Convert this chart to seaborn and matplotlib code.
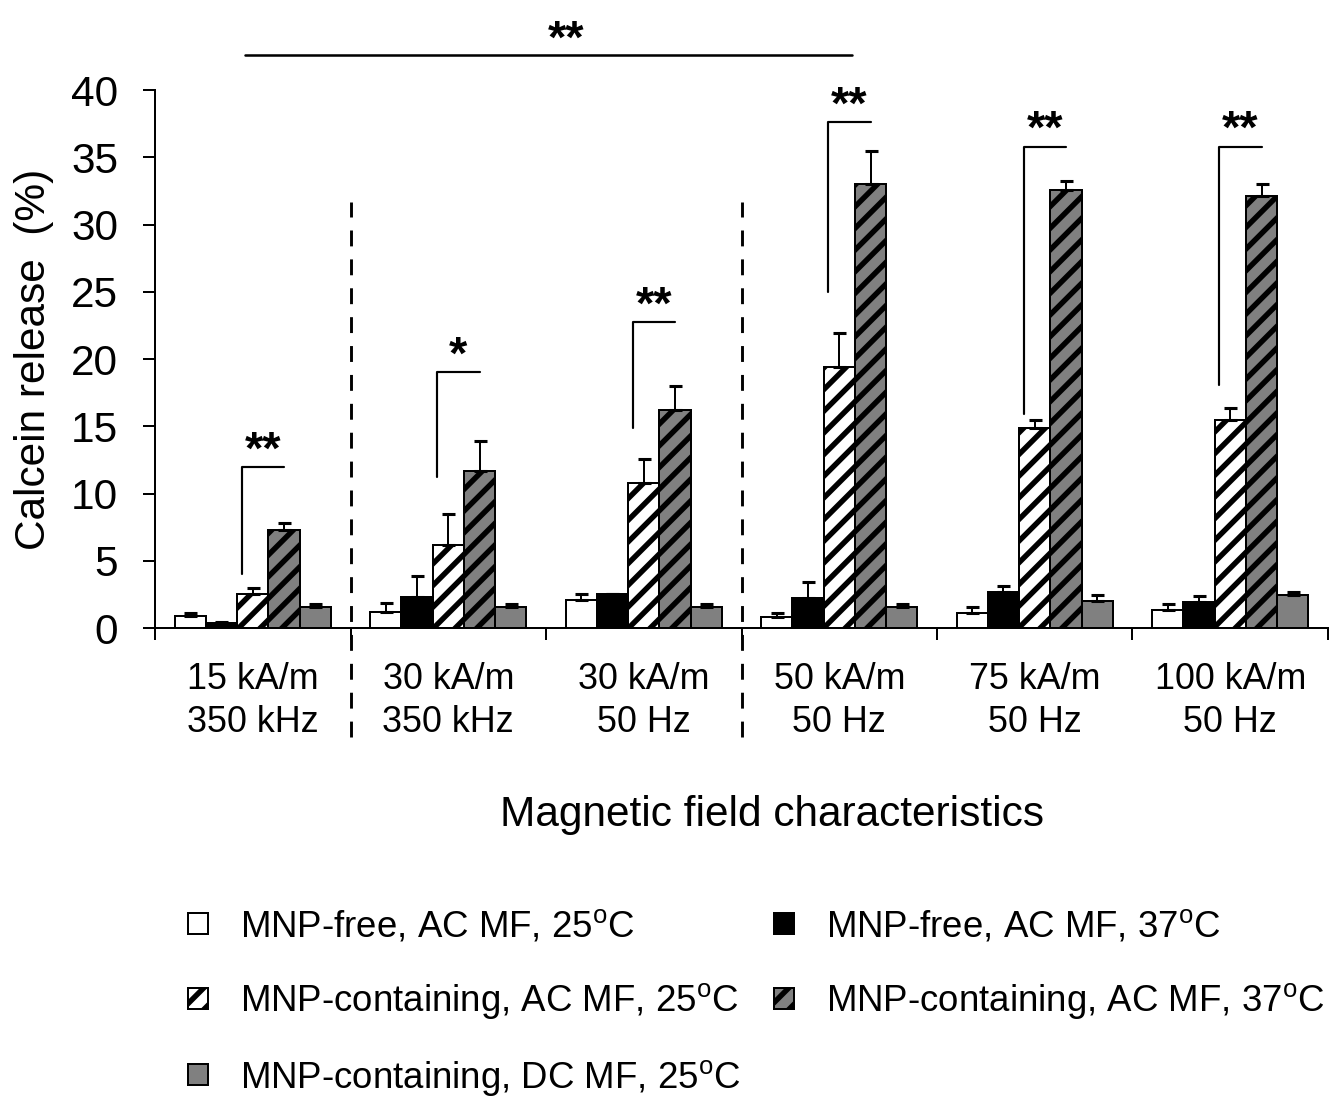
import numpy as np
import pandas as pd
import matplotlib
matplotlib.use("Agg")
import matplotlib.pyplot as plt
import seaborn as sns
from matplotlib.patches import Patch

# ---------------- data ----------------
fields = ["15 kA/m\n350 kHz", "30 kA/m\n350 kHz", "30 kA/m\n50 Hz",
          "50 kA/m\n50 Hz", "75 kA/m\n50 Hz", "100 kA/m\n50 Hz"]

conditions = [
    r"MNP-free, AC MF, 25$^{\mathrm{o}}$C",
    r"MNP-free, AC MF, 37$^{\mathrm{o}}$C",
    r"MNP-containing, AC MF, 25$^{\mathrm{o}}$C",
    r"MNP-containing, AC MF, 37$^{\mathrm{o}}$C",
    r"MNP-containing, DC MF, 25$^{\mathrm{o}}$C",
]

free_ac_25 = [0.9, 1.2, 2.05, 0.85, 1.1, 1.35]
free_ac_25_sd = [0.25, 0.65, 0.5, 0.25, 0.45, 0.4]
free_ac_37 = [0.35, 2.3, 2.5, 2.25, 2.65, 1.95]
free_ac_37_sd = [0.1, 1.6, 0.05, 1.15, 0.45, 0.45]
mnp_ac_25 = [2.5, 6.2, 10.8, 19.4, 14.9, 15.5]
mnp_ac_25_sd = [0.5, 2.3, 1.8, 2.5, 0.6, 0.85]
mnp_ac_37 = [7.3, 11.7, 16.2, 33.0, 32.6, 32.1]
mnp_ac_37_sd = [0.5, 2.2, 1.8, 2.5, 0.65, 0.9]
mnp_dc_25 = [1.6, 1.6, 1.6, 1.55, 2.0, 2.45]
mnp_dc_25_sd = [0.2, 0.2, 0.2, 0.2, 0.45, 0.2]

# significance brackets (AC 25 vs AC 37 within each field)
pair_stars = ["**", "*", "**", "**", "**", "**"]
pair_low = [4.0, 11.2, 14.9, 25.0, 15.9, 18.1]
pair_high = [12.0, 19.0, 22.75, 37.6, 35.8, 35.8]
overall_star = "**"
overall_level = 42.6

# dashed separators placed after these field groups
separator_after = [0, 2]

# ---------------- style ----------------
sns.set_style("ticks")
plt.rcParams.update({
    "font.family": ["Liberation Sans", "DejaVu Sans"],
    "mathtext.fontset": "custom",
    "mathtext.rm": "Liberation Sans",
    "mathtext.it": "Liberation Sans:italic",
    "mathtext.bf": "Liberation Sans:bold",
    "hatch.linewidth": 3.0,
    "axes.linewidth": 1.1,
    "axes.edgecolor": "black",
    "text.color": "black",
    "axes.labelcolor": "black",
    "xtick.color": "black",
    "ytick.color": "black",
})

face_colors = ["white", "black", "white", "#808080", "#808080"]
hatches = ["", "", "//", "//", ""]
means = [free_ac_25, free_ac_37, mnp_ac_25, mnp_ac_37, mnp_dc_25]
sds = [free_ac_25_sd, free_ac_37_sd, mnp_ac_25_sd, mnp_ac_37_sd, mnp_dc_25_sd]

rows = []
for cond, vals in zip(conditions, means):
    for f, v in zip(fields, vals):
        rows.append({"field": f, "condition": cond, "release": v})
df = pd.DataFrame(rows)

DPI = 130
fig = plt.figure(figsize=(1334 / DPI, 1102 / DPI), dpi=DPI)
ax = fig.add_axes([0.1162, 0.4301, 0.8793, 0.4882])

sns.barplot(data=df, x="field", y="release", hue="condition",
            order=fields, hue_order=conditions,
            palette=dict(zip(conditions, face_colors)),
            width=0.8, gap=0, errorbar=None, saturation=1,
            edgecolor="black", linewidth=1.1, legend=False, ax=ax)

# hatching and one-sided error bars
for cont, hatch, sd in zip(ax.containers, hatches, sds):
    xs, ys = [], []
    for bar in cont.patches:
        bar.set_hatch(hatch)
        bar.set_edgecolor("black")
        xs.append(bar.get_x() + bar.get_width() / 2)
        ys.append(bar.get_height())
    ax.errorbar(xs, ys, yerr=[np.zeros(len(sd)), sd], fmt="none",
                ecolor="black", elinewidth=1.1, capsize=3.6, capthick=1.7,
                zorder=3)

# brackets with significance stars
ac25 = ax.containers[2].patches
ac37 = ax.containers[3].patches
for g in range(len(fields)):
    x0 = ac25[g].get_x() + 0.15 * ac25[g].get_width()
    x1 = ac37[g].get_x() + ac37[g].get_width() / 2
    ax.plot([x0, x0, x1], [pair_low[g], pair_high[g], pair_high[g]],
            color="black", lw=1.2, clip_on=False, zorder=4)
    ax.text((x0 + x1) / 2, pair_high[g] + 0.25, pair_stars[g],
            ha="center", va="baseline", fontsize=26, fontweight="bold")

# overall comparison line above the plot
xa = ac25[0].get_x() + 0.25 * ac25[0].get_width()
xb = ac25[3].get_x() + 0.9 * ac25[3].get_width()
ax.plot([xa, xb], [overall_level, overall_level], color="black", lw=1.4,
        clip_on=False)
ax.text(xa + 0.53 * (xb - xa), overall_level + 0.2, overall_star,
        ha="center", va="baseline", fontsize=26, fontweight="bold")

# dashed group separators
for g in separator_after:
    xs = g + 0.5
    ax.plot([xs, xs], [-8.1, 31.7], color="black", lw=1.6,
            ls=(0, (5.5, 4.5)), clip_on=False, zorder=5)

# axes
ax.set_xlim(-0.5, len(fields) - 0.5)
ax.set_ylim(0, 40)
ax.set_yticks(np.arange(0, 41, 5))
ax.set_xticks(range(len(fields)))
ax.set_xticklabels(fields)
ax.set_xticks(np.arange(-0.5, len(fields), 1), minor=True)
ax.tick_params(axis="x", which="major", length=0, pad=18.8, labelsize=19.9)
ax.tick_params(axis="x", which="minor", length=6.6, width=1.1,
               direction="out")
ax.tick_params(axis="y", length=6.6, width=1.1, direction="out",
               pad=13.8, labelsize=23.5)
for lbl in ax.get_xticklabels():
    lbl.set_linespacing(1.3)
sns.despine(ax=ax)

ax.set_ylabel("Calcein release  (%)", fontsize=23.5)
ax.yaxis.set_label_coords(-0.0861, 0.5)
ax.set_xlabel("Magnetic field characteristics", fontsize=23.5)
ax.xaxis.set_label_coords(0.526, -0.3104)

# legend
order = [0, 2, 4, 1, 3]
handles = [Patch(facecolor=face_colors[i], edgecolor="black",
                 hatch=hatches[i], linewidth=1.1) for i in order]
labels = [conditions[i] for i in order]
fig.legend(handles, labels, ncol=2, loc="upper left",
           bbox_to_anchor=(0.1409, 0.1755), frameon=False,
           fontsize=20.3, handlelength=0.55, handleheight=0.5,
           handletextpad=0.87, columnspacing=0.9, labelspacing=1.0,
           borderpad=0, borderaxespad=0)

fig.savefig("out.png", dpi=DPI)
